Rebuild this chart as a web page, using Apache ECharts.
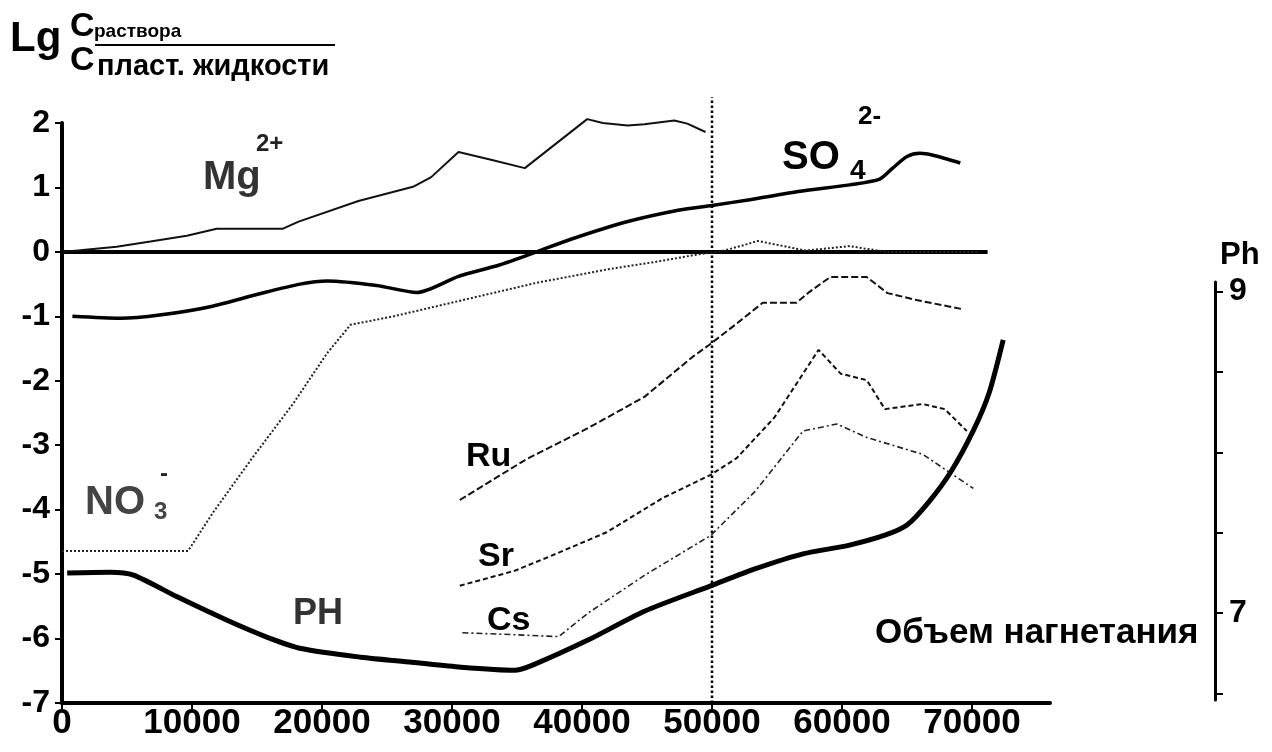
<!DOCTYPE html>
<html>
<head>
<meta charset="utf-8">
<title>Lg Cраствора / Cпласт. жидкости</title>
<script src="https://cdn.jsdelivr.net/npm/echarts@6/dist/echarts.min.js"></script>
<style>
  * { margin: 0; padding: 0 }
  html, body { width: 100%; height: 100%; background: #fff; }
  #main { width: 1272px; height: 752px; }
</style>
</head>
<body>
<div id="main"></div>
<script type="text/javascript">
  // x: объем нагнетания, y: Lg(Cраствора / Cпласт. жидкости)
  var xTicks = [0, 10000, 20000, 30000, 40000, 50000, 60000, 70000];
  var yTicks = [-7, -6, -5, -4, -3, -2, -1, 0, 1, 2];
  var phTicks = [6.5, 7, 7.5, 8, 8.5, 9];
  var phLabels = [7, 9];

  var zeroLine = [[0, 0], [71200, 0]];
  var divider = [[50000, -7], [50000, 2.4]];

  var mg = [[0, 0], [4200, 0.08], [6800, 0.16], [9600, 0.25], [11900, 0.36], [17000, 0.36],
    [18200, 0.47], [22800, 0.79], [27000, 1.01], [28400, 1.16], [30500, 1.55], [33000, 1.43],
    [35600, 1.3], [38000, 1.68], [40400, 2.06], [41600, 2.0], [43500, 1.96], [44800, 1.98],
    [47100, 2.04], [48100, 1.99], [49500, 1.86]];

  var so4 = [[800, -1.0], [4500, -1.03], [7500, -0.98], [11400, -0.85], [15200, -0.65],
    [18300, -0.5], [20400, -0.45], [24200, -0.52], [27300, -0.63], [30500, -0.38],
    [33700, -0.2], [36500, 0], [39200, 0.2], [43300, 0.46], [47500, 0.65], [50000, 0.72],
    [52900, 0.81], [56800, 0.94], [60600, 1.04], [62900, 1.13], [63900, 1.3], [65000, 1.48],
    [66000, 1.53], [67000, 1.5], [69100, 1.38]];

  var no3 = [[0, -4.64], [9700, -4.64], [11600, -4.05], [14700, -3.18], [17800, -2.35],
    [20400, -1.57], [22200, -1.13], [25500, -1.0], [31000, -0.74], [36500, -0.48],
    [42000, -0.27], [45800, -0.15], [48900, -0.04], [50500, 0], [52200, 0.09], [53500, 0.17],
    [55500, 0.09], [57200, 0.02], [60600, 0.09], [61800, 0.05], [63500, 0], [70500, 0]];

  var ru = [[30600, -3.85], [35700, -3.22], [40500, -2.73], [44800, -2.25], [48500, -1.63],
    [49800, -1.44], [51600, -1.16], [53900, -0.79], [56500, -0.79], [57500, -0.62],
    [59100, -0.39], [61900, -0.39], [63500, -0.64], [65800, -0.75], [69300, -0.89]];

  var sr = [[30600, -5.18], [34800, -4.95], [37700, -4.71], [41900, -4.35], [46200, -3.82],
    [49900, -3.46], [51900, -3.2], [54800, -2.57], [58200, -1.52], [59900, -1.89],
    [61900, -1.99], [63300, -2.44], [66200, -2.36], [67900, -2.44], [69600, -2.78]];

  var cs = [[30800, -5.91], [34800, -5.94], [38200, -5.97], [40500, -5.6], [44800, -5.02],
    [49900, -4.4], [53300, -3.72], [57000, -2.78], [59600, -2.67], [61900, -2.88],
    [66200, -3.14], [70100, -3.67]];

  var ph = [[400, 7.25], [3700, 7.255], [5500, 7.237], [8900, 7.1], [12700, 6.956],
    [15800, 6.85], [18400, 6.78], [23000, 6.726], [26900, 6.695], [30700, 6.664],
    [34800, 6.645], [36200, 6.677], [40500, 6.834], [44800, 7.012], [49900, 7.17],
    [53300, 7.275], [57000, 7.369], [60500, 7.422], [63300, 7.485], [65000, 7.548],
    [66700, 7.694], [68400, 7.883], [70100, 8.135], [71300, 8.366], [72400, 8.7]];

  var sans = '"Liberation Sans", Arial, sans-serif';

  function line(name, data, width, type, color, extra) {
    var s = {
      name: name, type: 'line', data: data, showSymbol: false, symbol: 'none',
      silent: true, smooth: false,
      lineStyle: { color: color || '#000', width: width, type: type || 'solid' }
    };
    for (var k in extra) s[k] = extra[k];
    return s;
  }

  function txt(x, y, s, size, color) {
    return {
      type: 'text', left: x, top: y, silent: true,
      style: { text: s, fill: color || '#000', font: 'bold ' + size + 'px ' + sans }
    };
  }

  var chart = echarts.init(document.getElementById('main'));
  chart.setOption({
    animation: false,
    backgroundColor: '#fff',
    grid: [
      { left: 62, top: 123, right: 222, bottom: 49 },
      { left: 62, top: 282, right: 222, bottom: 52 }
    ],
    xAxis: [{
      gridIndex: 0, type: 'value', min: 0, max: 76000, interval: 10000,
      axisLine: { onZero: false, lineStyle: { color: '#000', width: 4 } },
      axisTick: { length: 6, lineStyle: { color: '#000', width: 2 }, customValues: xTicks },
      splitLine: { show: false },
      axisLabel: {
        customValues: xTicks, color: '#000', fontSize: 35, fontWeight: 'bold',
        fontFamily: sans, margin: 3, hideOverlap: false,
        formatter: function (v) { return String(v); }
      }
    }, {
      gridIndex: 1, type: 'value', min: 0, max: 76000, show: false
    }],
    yAxis: [{
      gridIndex: 0, type: 'value', min: -7, max: 2, interval: 1,
      axisLine: { show: true, onZero: false, lineStyle: { color: '#000', width: 4 } },
      axisTick: { show: true, length: 7, lineStyle: { color: '#000', width: 2 }, customValues: yTicks },
      splitLine: { show: false },
      axisLabel: {
        customValues: yTicks, color: '#000', fontSize: 32, fontWeight: 'bold',
        fontFamily: sans, margin: 12
      }
    }, {
      gridIndex: 1, type: 'value', position: 'right', offset: 165, min: 6.46, max: 9.06,
      axisLine: { show: true, onZero: false, lineStyle: { color: '#000', width: 3 } },
      axisTick: { show: true, length: 8, lineStyle: { color: '#000', width: 2 }, customValues: phTicks },
      splitLine: { show: false },
      axisLabel: {
        customValues: phLabels, color: '#000', fontSize: 32, fontWeight: 'bold',
        fontFamily: sans, margin: 14
      }
    }],
    series: [
      line('0', zeroLine, 4, 'solid', '#000'),
      line('divider', divider, 2.5, 'dotted', '#000', { clip: false }),
      line('Mg2+', mg, 2, 'solid', '#111', { clip: false }),
      line('SO4 2-', so4, 3.5, 'solid', '#000', { smooth: 0.25 }),
      line('NO3-', no3, 2, 'dotted', '#222'),
      line('Ru', ru, 2, [7, 3], '#111'),
      line('Sr', sr, 2, [5, 3], '#111'),
      line('Cs', cs, 1.6, [6, 3, 2, 3], '#222'),
      line('Ph', ph, 5, 'solid', '#000', { xAxisIndex: 1, yAxisIndex: 1, smooth: 0.25 })
    ],
    graphic: [
      txt(10, 18, 'Lg', 42),
      txt(70, 10, 'C', 34),
      txt(94, 22, 'раствора', 19),
      { type: 'rect', silent: true, shape: { x: 95, y: 44, width: 240, height: 2 }, style: { fill: '#000' } },
      txt(70, 44, 'C', 34),
      txt(97, 52, 'пласт. жидкости', 29),
      txt(203, 158, 'Mg', 40, '#333'),
      txt(256, 132, '2+', 24, '#222'),
      txt(782, 138, 'SO', 40),
      txt(850, 157, '4', 28),
      txt(858, 104, '2-', 26),
      txt(85, 483, 'NO', 40, '#444'),
      txt(154, 500, '3', 24, '#444'),
      txt(160, 462, '-', 24, '#222'),
      txt(466, 440, 'Ru', 34),
      txt(478, 540, 'Sr', 34),
      txt(487, 604, 'Cs', 34),
      txt(293, 596, 'PH', 36, '#333'),
      txt(875, 616, 'Объем нагнетания', 35),
      txt(1220, 240, 'Ph', 31)
    ]
  });
</script>
</body>
</html>
